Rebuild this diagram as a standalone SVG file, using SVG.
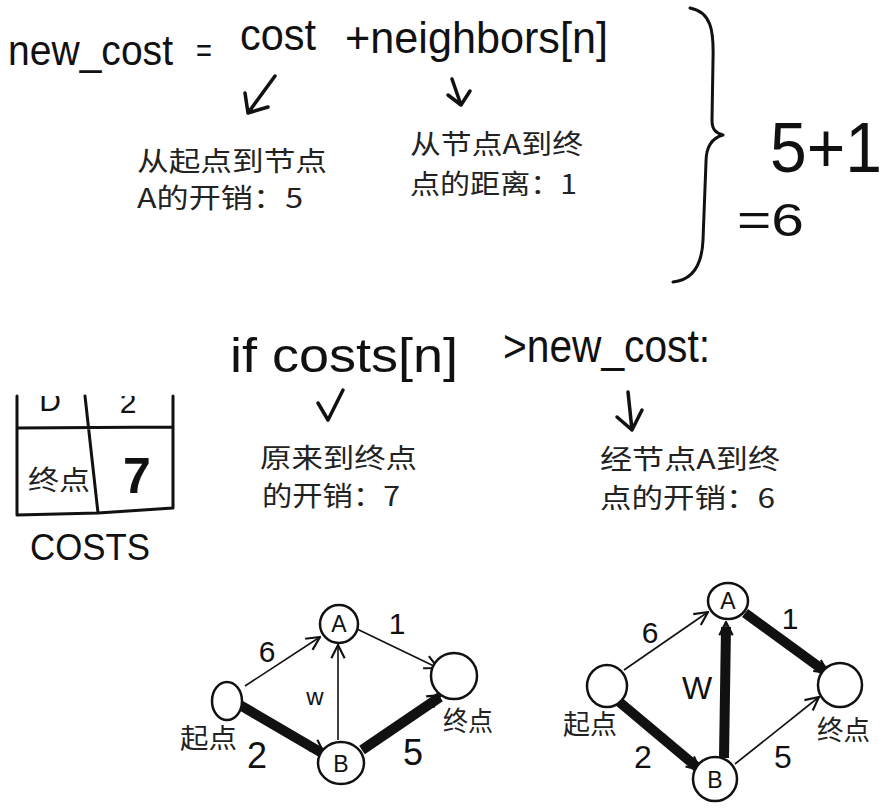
<svg xmlns="http://www.w3.org/2000/svg" width="888" height="808" viewBox="0 0 888 808">
<style>
.hw{font-family:"Liberation Sans","DejaVu Sans",sans-serif;fill:#111}
.cj{font-family:"Noto Sans CJK SC","Noto Sans CJK JP",sans-serif;fill:#222;font-size:27px}
.ln{fill:none;stroke:#111;stroke-linecap:round;stroke-linejoin:round}
.node{fill:#fff;stroke:#111;stroke-width:2.5}
.thin{fill:none;stroke:#111;stroke-width:1.6}
.thick{fill:none;stroke:#111;stroke-width:10}
.lbl{font-family:"Liberation Sans","DejaVu Sans",sans-serif;fill:#111;text-anchor:middle}
</style>
<defs>
<marker id="ah" markerUnits="userSpaceOnUse" markerWidth="16" markerHeight="16" viewBox="0 0 12 12" refX="11" refY="6" orient="auto">
<path d="M1,1 L11,6 L1,11" fill="none" stroke="#111" stroke-width="1.6"/>
</marker>
<clipPath id="tclip"><rect x="0" y="396" width="200" height="40"/></clipPath>
</defs>
<rect width="888" height="808" fill="#fff"/>

<g id="formula-top">
<text class="hw" x="8" y="65" font-size="42" textLength="165" lengthAdjust="spacingAndGlyphs">new_cost</text>
<text class="hw" x="196" y="62" font-size="34" textLength="16" lengthAdjust="spacingAndGlyphs">=</text>
<text class="hw" x="240" y="50" font-size="44" textLength="76" lengthAdjust="spacingAndGlyphs">cost</text>
<text class="hw" x="345" y="53" font-size="44" textLength="263" lengthAdjust="spacingAndGlyphs">+neighbors[n]</text>
<path class="ln" stroke-width="3.5" d="M275,76 L248,113 M245,93 L248,113 L268,107"/>
<path class="ln" stroke-width="3.5" d="M452,79 L461,105 M448,95 L461,105 L470,91"/>
<text class="cj" x="137" y="171" textLength="190" lengthAdjust="spacingAndGlyphs">从起点到节点</text>
<text class="cj" x="137" y="208" textLength="166" lengthAdjust="spacingAndGlyphs">A的开销：5</text>
<text class="cj" x="410" y="154" textLength="173" lengthAdjust="spacingAndGlyphs">从节点A到终</text>
<text class="cj" x="410" y="194" textLength="167" lengthAdjust="spacingAndGlyphs">点的距离：1</text>
<path class="ln" stroke-width="3" d="M690,8 C711,12 714,30 713,60 L712,120 C712,130 716,133 723,135 C712,138 706,146 706,162 L703,240 C702,265 692,280 673,282"/>
<text class="hw" x="770" y="172" font-size="70" textLength="112" lengthAdjust="spacingAndGlyphs">5+1</text>
<text class="hw" x="737" y="236" font-size="46" textLength="67" lengthAdjust="spacingAndGlyphs">=6</text>
</g>

<g id="formula-if">
<text class="hw" x="230" y="372" font-size="48" textLength="228" lengthAdjust="spacingAndGlyphs">if costs[n]</text>
<text class="hw" x="503" y="362" font-size="47" textLength="207" lengthAdjust="spacingAndGlyphs">&gt;new_cost:</text>
<path class="ln" stroke-width="3.5" d="M318,403 L328,420 L343,390"/>
<path class="ln" stroke-width="3.5" d="M628,392 L632,430 M617,417 L632,430 L642,410"/>
<text class="cj" x="260" y="468" textLength="157" lengthAdjust="spacingAndGlyphs">原来到终点</text>
<text class="cj" x="262" y="506" textLength="138" lengthAdjust="spacingAndGlyphs">的开销：7</text>
<text class="cj" x="600" y="469" textLength="180" lengthAdjust="spacingAndGlyphs">经节点A到终</text>
<text class="cj" x="600" y="508" textLength="175" lengthAdjust="spacingAndGlyphs">点的开销：6</text>
</g>

<g id="costs-table">
<path class="ln" stroke-width="3" d="M17,396 L17,515 M85,396 L98,513 M173,396 L173,508 M18,428 L173,427 M17,515 L98,513 L173,508"/>
<g clip-path="url(#tclip)">
<text class="hw" x="50" y="411" font-size="30" text-anchor="middle">D</text>
<text class="hw" x="128" y="413" font-size="30" text-anchor="middle">2</text>
</g>
<text class="cj" x="28" y="490" font-size="26" textLength="62" lengthAdjust="spacingAndGlyphs">终点</text>
<text class="hw" x="137" y="493" font-size="50" font-weight="bold" text-anchor="middle">7</text>
<text class="hw" x="30" y="560" font-size="36" textLength="120" lengthAdjust="spacingAndGlyphs">COSTS</text>
</g>

<g id="connectors">
<path class="thin" d="M245,686 L320,637" marker-end="url(#ah)"/>
<path class="thick" d="M240,705 L322,753"/>
<path class="thin" d="M312,744 L324,753" marker-end="url(#ah)"/>
<path class="thin" d="M338,740 L338,645" marker-end="url(#ah)"/>
<path class="thin" d="M357,629 L438,668" marker-end="url(#ah)"/>
<path class="thick" d="M362,750 L440,697"/>
<path class="thin" d="M425,705 L441,695" marker-end="url(#ah)"/>
<path class="thin" d="M624,670 L708,612" marker-end="url(#ah)"/>
<path class="thick" d="M617,700 L698,768"/>
<path class="thin" d="M688,760 L700,770" marker-end="url(#ah)"/>
<path class="thick" d="M724,758 L726,627"/>
<path class="thin" d="M726,640 L726,622" marker-end="url(#ah)"/>
<path class="thick" d="M745,613 L826,672"/>
<path class="thin" d="M815,664 L828,673" marker-end="url(#ah)"/>
<path class="thin" d="M735,764 L819,697" marker-end="url(#ah)"/>
</g>

<g id="edge-labels">
<text class="lbl" x="267" y="662" font-size="30">6</text>
<text class="lbl" x="397" y="634" font-size="30">1</text>
<text class="lbl" x="315" y="705" font-size="24">w</text>
<text class="lbl" x="257" y="768" font-size="36">2</text>
<text class="lbl" x="413" y="765" font-size="36">5</text>
<text class="lbl" x="650" y="643" font-size="30">6</text>
<text class="lbl" x="790" y="629" font-size="30">1</text>
<text class="lbl" x="697" y="699" font-size="32">W</text>
<text class="lbl" x="643" y="768" font-size="32">2</text>
<text class="lbl" x="783" y="768" font-size="32">5</text>
</g>

<g id="g1-start">
<ellipse class="node" cx="227" cy="701" rx="15" ry="19"/>
<text class="cj" x="180" y="748" font-size="22" textLength="57" lengthAdjust="spacingAndGlyphs">起点</text>
</g>
<g id="g1-A">
<circle class="node" cx="339" cy="624" r="19"/>
<text class="lbl" x="339" y="632" font-size="23">A</text>
</g>
<g id="g1-B">
<ellipse class="node" cx="341" cy="763" rx="23" ry="21"/>
<text class="lbl" x="341" y="772" font-size="23">B</text>
</g>
<g id="g1-end">
<circle class="node" cx="454" cy="676" r="23"/>
<text class="cj" x="443" y="731" font-size="22" textLength="50" lengthAdjust="spacingAndGlyphs">终点</text>
</g>

<g id="g2-start">
<ellipse class="node" cx="607" cy="686" rx="20" ry="21"/>
<text class="cj" x="563" y="734" font-size="22" textLength="54" lengthAdjust="spacingAndGlyphs">起点</text>
</g>
<g id="g2-A">
<ellipse class="node" cx="728" cy="601" rx="20" ry="18"/>
<text class="lbl" x="728" y="609" font-size="23">A</text>
</g>
<g id="g2-B">
<circle class="node" cx="715" cy="779" r="22"/>
<text class="lbl" x="715" y="788" font-size="23">B</text>
</g>
<g id="g2-end">
<circle class="node" cx="840" cy="685" r="22"/>
<text class="cj" x="817" y="740" font-size="22" textLength="53" lengthAdjust="spacingAndGlyphs">终点</text>
</g>
</svg>
